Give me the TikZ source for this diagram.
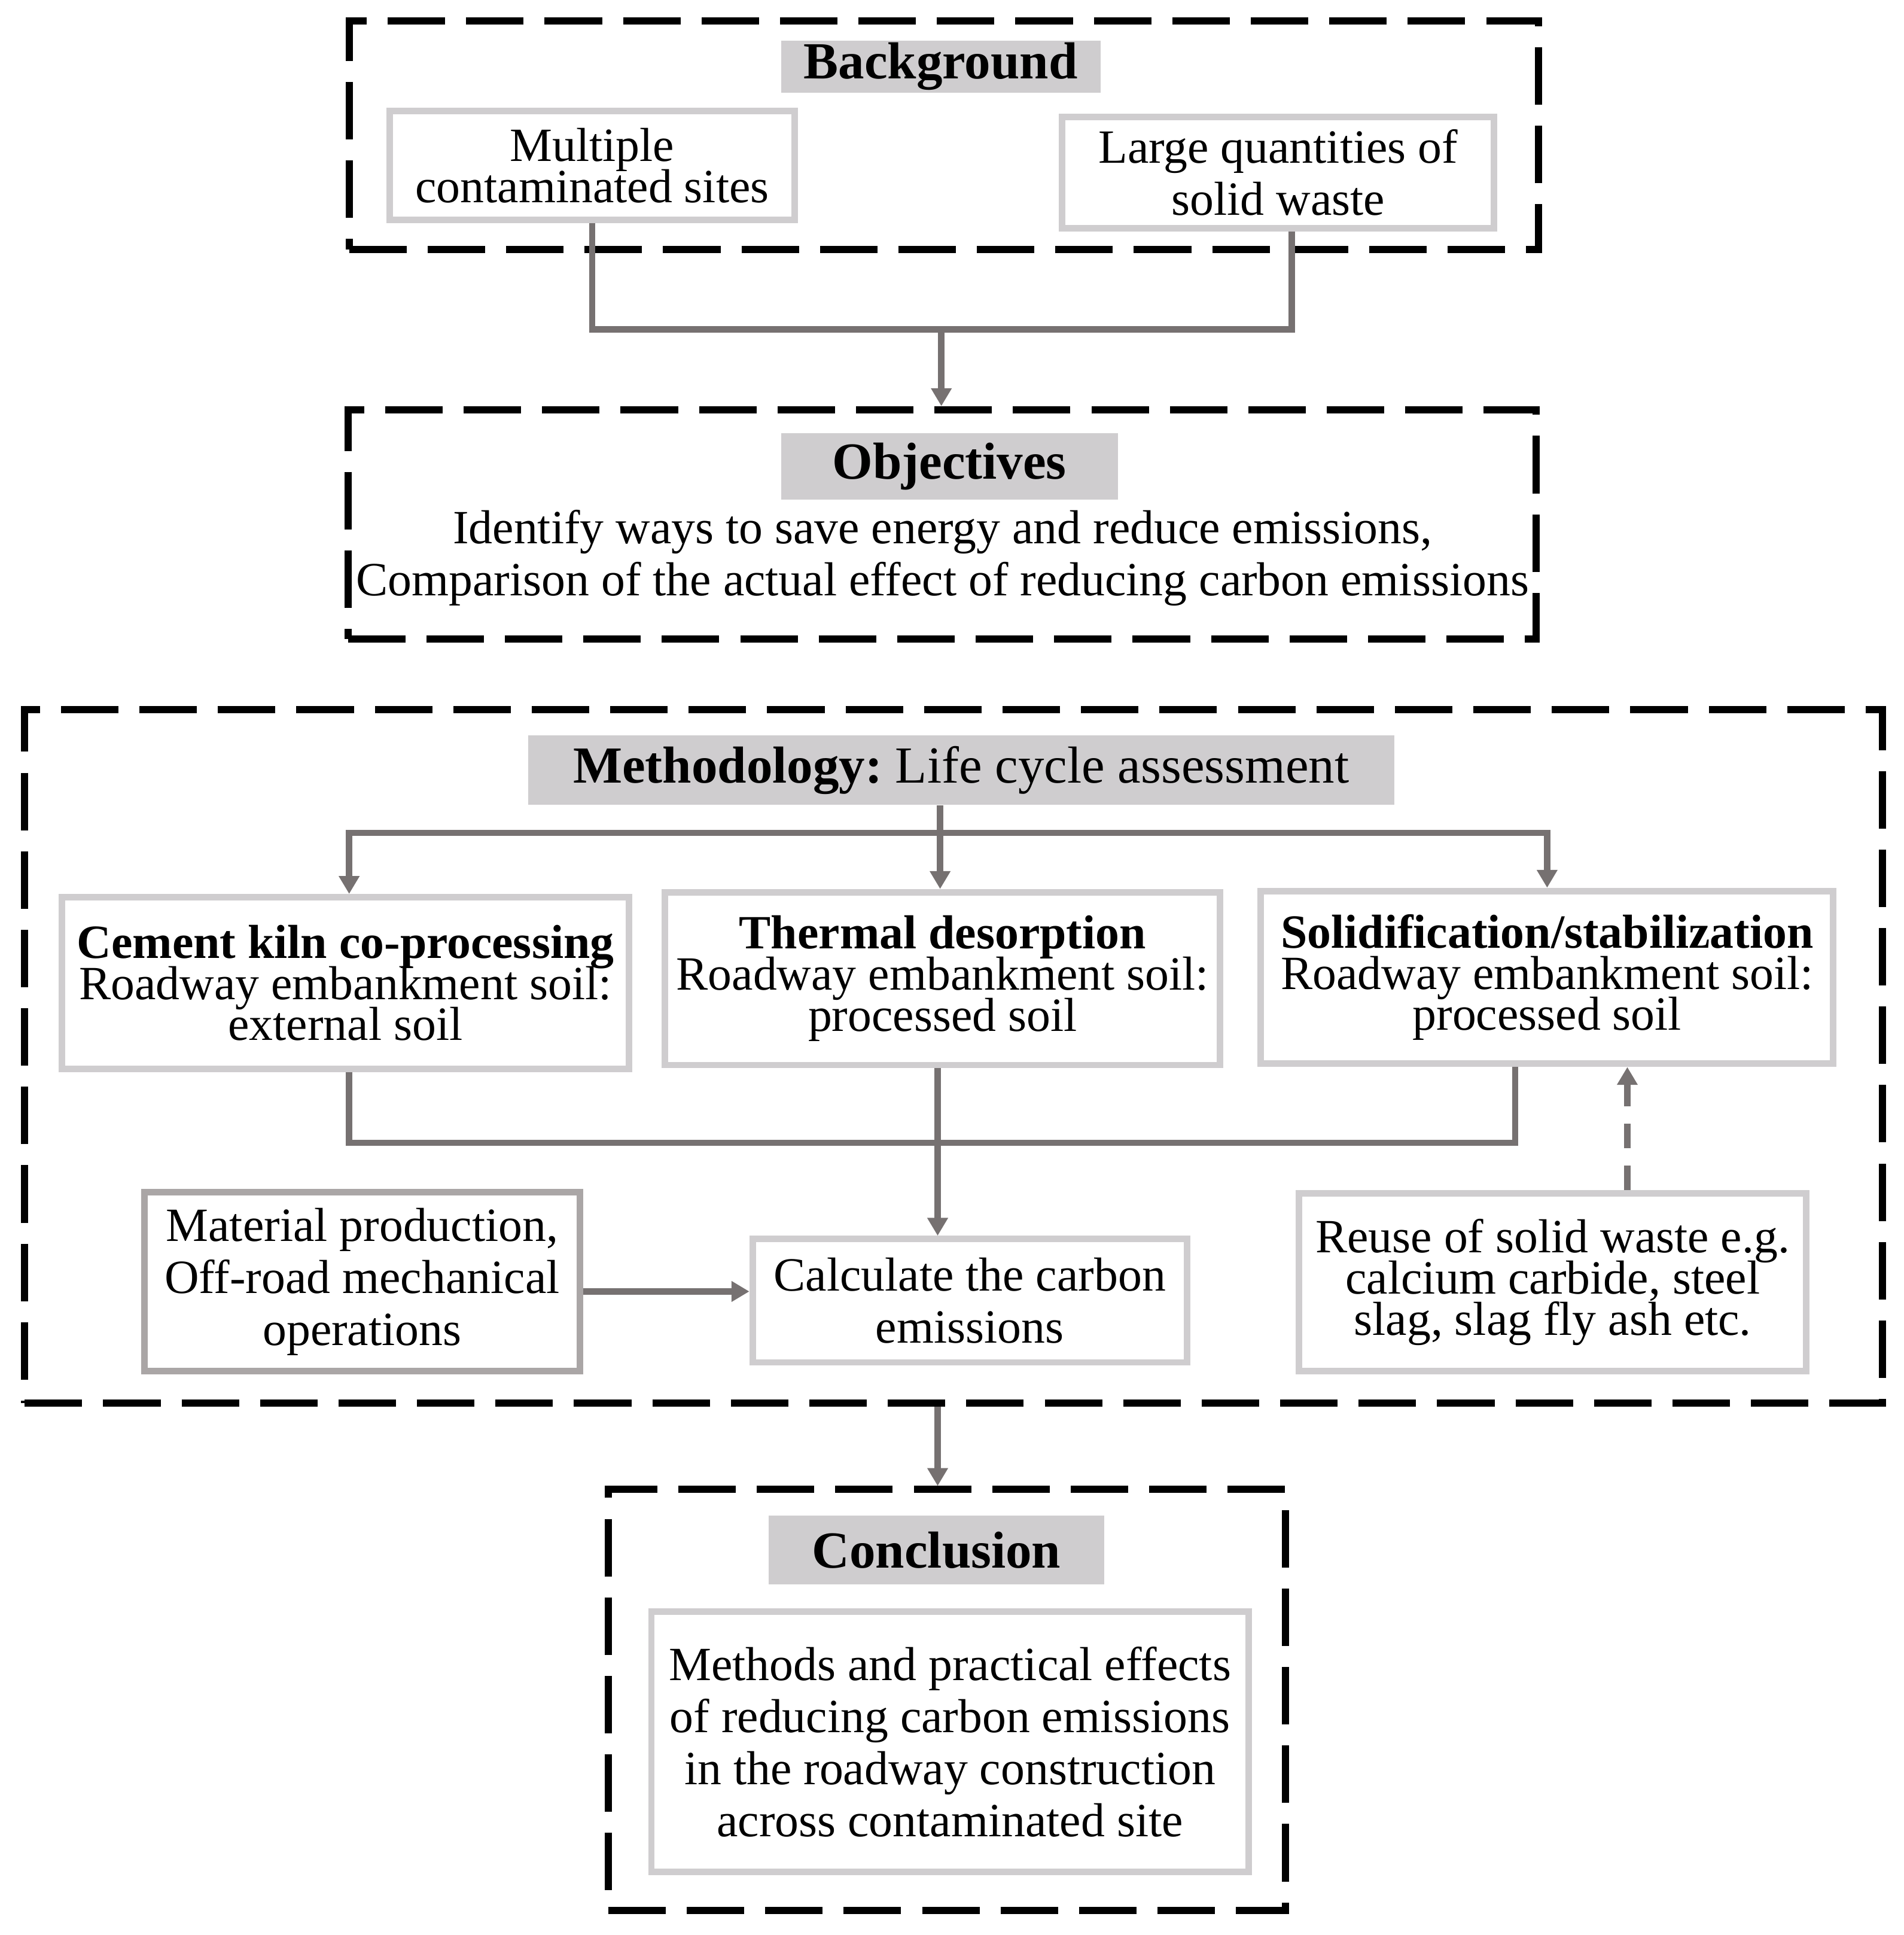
\documentclass[tikz,border=0pt]{standalone}
\usepackage{fontspec}
\setmainfont{Liberation Serif}
\usetikzlibrary{arrows.meta}
\definecolor{boxgray}{RGB}{207,205,207}
\definecolor{labelgray}{RGB}{207,205,207}
\definecolor{darkboxgray}{RGB}{170,166,166}
\definecolor{linkgray}{RGB}{118,113,113}
\newcommand{\tightlines}[1]{\fontsize{11}{#1}\selectfont\lineskiplimit-20pt\relax}
\begin{document}
\begin{tikzpicture}
[framedecorate/.style={draw=black,line width=1.65pt,dash pattern=on 0.466cm off 0.17cm},
  labeldecorate/.style={fill=labelgray,inner sep=0pt,font=\fontsize{12}{14}\selectfont\bfseries},
  boxdecorate/.style={draw=boxgray,line width=1.5pt,align=center,inner sep=0pt},
  tighttext/.style={font={\tightlines{9.5}}},
  loosetext/.style={font={\tightlines{12}}},
  linkdecorate/.style={draw=linkgray,line width=1.45pt},
  arrowdecorate/.style={linkdecorate,-{Triangle[width=0.16cm,length=0.145cm]}}]
\useasboundingbox (0,0) rectangle (15.43,-15.68);
%% dashed frames
\foreach \nodename/\x/\y/\w/\h in {bgframe/7.65/-1.095/9.64/1.85,
  objframe/7.635/-4.25/9.63/1.86, metframe/7.73/-8.56/15.06/5.62,
  conframe/7.675/-13.775/5.49/3.41}
{
  \node[framedecorate,minimum width=\w cm,minimum height=\h cm] (\nodename) at (\x,\y) {};
}
%% gray headings
\foreach \nodename/\x/\y/\w/\h/\caption in {bglabel/7.625/-0.54/2.59/0.42/Background,
  objlabel/7.695/-3.78/2.73/0.54/Objectives,
  metlabel/7.79/-6.24/7.02/0.56/{Methodology:\mdseries\ Life cycle assessment},
  conlabel/7.59/-12.56/2.72/0.56/Conclusion}
{
  \node[labeldecorate,minimum width=\w cm,minimum height=\h cm] (\nodename) at (\x,\y) {\caption};
}
%% boxes
\node[boxdecorate,tighttext,minimum width=3.28cm,minimum height=0.88cm] (multbox) at (4.80,-1.34)
  {Multiple\\contaminated sites};
\node[boxdecorate,loosetext,minimum width=3.50cm,minimum height=0.90cm] (largebox) at (10.36,-1.40)
  {Large quantities of\\solid waste};
\node[loosetext,align=center] (objtext) at (7.64,-4.52)
  {Identify ways to save energy and reduce emissions,\\Comparison of the actual effect of reducing carbon emissions};
\node[boxdecorate,tighttext,minimum width=4.60cm,minimum height=1.39cm] (cembox) at (2.80,-7.965)
  {\textbf{Cement kiln co-processing}\\Roadway embankment soil:\\external soil};
\node[boxdecorate,tighttext,minimum width=4.50cm,minimum height=1.40cm] (thermbox) at (7.64,-7.93)
  {\textbf{Thermal desorption}\\Roadway embankment soil:\\processed soil};
\node[boxdecorate,tighttext,minimum width=4.64cm,minimum height=1.40cm] (solbox) at (12.54,-7.92)
  {\textbf{Solidification/stabilization}\\Roadway embankment soil:\\processed soil};
\node[boxdecorate,loosetext,draw=darkboxgray,minimum width=3.53cm,minimum height=1.45cm] (matbox) at (2.935,-10.385)
  {Material production,\\Off-road mechanical\\operations};
\node[boxdecorate,loosetext,minimum width=3.52cm,minimum height=1.00cm] (calcbox) at (7.86,-10.54)
  {Calculate the carbon\\emissions};
\node[boxdecorate,tighttext,minimum width=4.11cm,minimum height=1.44cm] (reusebox) at (12.585,-10.39)
  {Reuse of solid waste e.g.\\calcium carbide, steel\\slag, slag fly ash etc.};
\node[boxdecorate,loosetext,minimum width=4.84cm,minimum height=2.11cm] (conbox) at (7.70,-14.115)
  {Methods and practical effects\\of reducing carbon emissions\\in the roadway construction\\across contaminated site};
%% junctions
\coordinate (bgjoin) at (7.63,-2.67);
\coordinate (metsplit) at (7.62,-6.75);
\coordinate (metjoin) at (7.60,-9.26);
\coordinate (matout) at ([yshift=-0.8mm]matbox.east);
\coordinate (reusetop) at ([xshift=6.05mm]reusebox.north);
%% connectors
\draw[linkdecorate] (multbox.south) |- (bgjoin) -| ([xshift=1.1mm]largebox.south);
\draw[arrowdecorate] (bgjoin) -- (objframe.north -| bgjoin);
\draw[linkdecorate] (metlabel.south -| metsplit) -- (metsplit);
\draw[arrowdecorate] (metsplit) -| ([xshift=0.3mm]cembox.north);
\draw[arrowdecorate] (metsplit) -| (solbox.north);
\draw[arrowdecorate] (metsplit) -- (metsplit |- thermbox.north);
\draw[linkdecorate] ([xshift=0.3mm]cembox.south) |- (metjoin) -| ([xshift=-2.6mm]solbox.south);
\draw[arrowdecorate] (metjoin |- thermbox.south) -- (metjoin |- calcbox.north);
\draw[arrowdecorate] (matout) -- (matout -| calcbox.west);
\draw[arrowdecorate,dash pattern=on 0.2cm off 0.14cm] (reusetop) -- (reusetop |- solbox.south);
\draw[arrowdecorate] (metframe.south -| metjoin) -- (conframe.north -| metjoin);
\end{tikzpicture}
\end{document}
